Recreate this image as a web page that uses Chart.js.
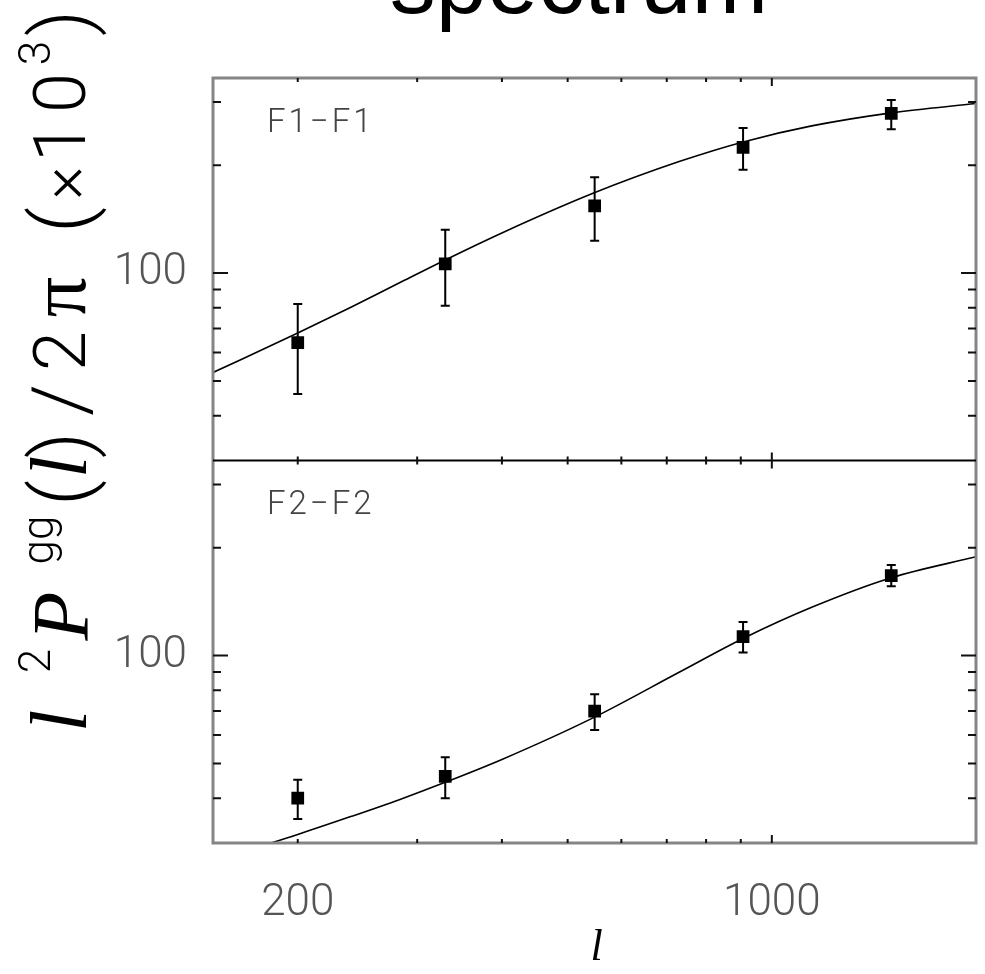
<!DOCTYPE html>
<html>
<head>
<meta charset="utf-8">
<script src="https://cdn.jsdelivr.net/npm/chart.js@4.4.1/dist/chart.umd.min.js"></script>
<style>
  html, body { margin: 0; padding: 0; background: #fff; }
  canvas { display: block; }
</style>
</head>
<body>
<canvas id="spectrum" width="985" height="974"></canvas>
<script>
// multipole bins and measured band powers (x10^3)
const ell = [200, 330, 548, 907, 1500];

const f1Power = [64, 106, 154, 224, 279];
const f1Lower = [46, 81, 123, 194, 252];
const f1Upper = [82, 132, 185, 254, 304];

const f2Power = [40, 46, 70, 113, 167];
const f2Lower = [35, 40, 62, 102, 156];
const f2Upper = [45, 52, 78, 124, 179];

// best-fit model curves
const modelEll = [150, 200, 240, 283, 330, 400, 545, 730, 910, 1145, 1500, 2000];
const modelF1 = [52.8, 68.0, 80.4, 94.1, 108.8, 129.4, 166.9, 204.6, 232.5, 257.3, 279.8, 297.2];
const modelF2 = [26.7, 31.7, 35.6, 39.7, 44.3, 51.3, 67.0, 89.8, 111.9, 136.3, 164.8, 188.6];

// axes
const xRange = [150, 2000];
const yRange = [30, 350];
const xMinorTicks = [200, 300, 400, 500, 600, 700, 800, 900];
const xMajorTicks = [1000];
const xTickLabels = [200, 1000];
const yMinorTicks = [40, 50, 60, 70, 80, 90, 200, 300];
const yMajorTicks = [100];
const yTickLabels = [100];

const thinFont = 'Roboto, "Liberation Sans", sans-serif';
const serifFont = '"Liberation Serif", "DejaVu Serif", serif';

function pts(xs, ys) { return xs.map((v, i) => ({ x: v, y: ys[i] })); }

function drawErrors(ctx, xs, ys, lo, hi) {
    ctx.save();
    ctx.lineWidth = 2;
    ctx.strokeStyle = '#000';
    ell.forEach((l, i) => {
        const px = xs.getPixelForValue(l);
        const y0 = ys.getPixelForValue(lo[i]);
        const y1 = ys.getPixelForValue(hi[i]);
        ctx.beginPath();
        ctx.moveTo(px, y0); ctx.lineTo(px, y1);
        ctx.moveTo(px - 4.5, y0); ctx.lineTo(px + 4.5, y0);
        ctx.moveTo(px - 4.5, y1); ctx.lineTo(px + 4.5, y1);
        ctx.stroke();
    });
    ctx.restore();
}

function rotGlyph(ctx, text, font, cy, baseX) {
    ctx.save();
    ctx.translate(baseX, cy);
    ctx.rotate(-Math.PI / 2);
    ctx.font = font;
    ctx.textAlign = 'center';
    ctx.textBaseline = 'alphabetic';
    ctx.fillText(text, 0, 0);
    ctx.restore();
}

const panelDecor = {
    id: 'panelDecor',
    afterDatasetsDraw(chart) {
        const ctx = chart.ctx;
        drawErrors(ctx, chart.scales.x, chart.scales.yF1, f1Lower, f1Upper);
        drawErrors(ctx, chart.scales.x, chart.scales.yF2, f2Lower, f2Upper);
    },
    afterDraw(chart) {
        const ctx = chart.ctx;
        const a = chart.chartArea;
        const xs = chart.scales.x;
        const top = chart.scales.yF1, bot = chart.scales.yF2;
        const mid = top.bottom;

        ctx.save();
        // frame
        ctx.strokeStyle = '#858585';
        ctx.lineWidth = 3;
        ctx.strokeRect(a.left, a.top, a.right - a.left, a.bottom - a.top);
        ctx.strokeStyle = '#000';
        ctx.lineWidth = 2;
        ctx.beginPath();
        ctx.moveTo(a.left, mid); ctx.lineTo(a.right, mid);
        ctx.stroke();

        // y ticks on both sides of each panel
        ctx.strokeStyle = '#111';
        ctx.lineWidth = 2;
        ctx.beginPath();
        [top, bot].forEach(s => {
            yMinorTicks.concat(yMajorTicks).forEach(v => {
                const len = yMajorTicks.includes(v) ? 15 : 8;
                const py = s.getPixelForValue(v);
                ctx.moveTo(a.left, py); ctx.lineTo(a.left + len, py);
                ctx.moveTo(a.right, py); ctx.lineTo(a.right - len, py);
            });
        });
        // x ticks on top, divider and bottom
        xMinorTicks.concat(xMajorTicks).forEach(v => {
            const len = xMajorTicks.includes(v) ? 8 : 4;
            const px = xs.getPixelForValue(v);
            ctx.moveTo(px, a.top); ctx.lineTo(px, a.top + len);
            ctx.moveTo(px, mid - len); ctx.lineTo(px, mid + len);
            ctx.moveTo(px, a.bottom); ctx.lineTo(px, a.bottom - len);
        });
        ctx.stroke();

        // panel labels
        ctx.fillStyle = '#444';
        ctx.font = '300 33px ' + thinFont;
        ctx.textAlign = 'left';
        ctx.textBaseline = 'alphabetic';
        ctx.letterSpacing = '3px';
        ctx.fillText('F1\u2212F1', a.left + 54, top.top + 54);
        ctx.fillText('F2\u2212F2', a.left + 54, bot.top + 53);
        ctx.letterSpacing = '0px';

        // title (runs off the top edge)
        ctx.fillStyle = '#000';
        ctx.font = '92px "Liberation Sans", Arial, sans-serif';
        ctx.textAlign = 'center';
        ctx.fillText('spectrum', 579, 13);

        // x axis title
        ctx.font = 'italic 44px ' + serifFont;
        ctx.fillText('l', (a.left + a.right) / 2 + 2, 960);

        // y axis title, set piece by piece
        const big = '300 80px ' + thinFont;
        const sup = '300 44px ' + thinFont;
        const ital = 'italic 80px ' + serifFont;
        rotGlyph(ctx, 'l', ital, 721, 86);
        rotGlyph(ctx, '2', sup, 661, 50);
        rotGlyph(ctx, 'P', ital, 616, 88);
        rotGlyph(ctx, 'gg', sup, 540, 53);
        rotGlyph(ctx, '(', big, 493, 88);
        rotGlyph(ctx, 'l', ital, 467, 86);
        rotGlyph(ctx, ')', big, 445, 88);
        rotGlyph(ctx, '/', big, 400, 88);
        rotGlyph(ctx, '2', '300 72px ' + thinFont, 351, 85);
        rotGlyph(ctx, '\u03c0', '80px ' + serifFont, 297, 85);
        rotGlyph(ctx, '(', big, 220, 88);
        rotGlyph(ctx, '\u00d7', '300 64px ' + thinFont, 183, 85);
        rotGlyph(ctx, '1', '300 72px ' + thinFont, 142, 85);
        rotGlyph(ctx, '0', '300 72px ' + thinFont, 93, 85);
        rotGlyph(ctx, '3', sup, 53, 50);
        rotGlyph(ctx, ')', big, 23, 88);
        ctx.restore();
    }
};

const tickFont = { family: thinFont, size: 44, weight: '300' };

new Chart(document.getElementById('spectrum'), {
    type: 'line',
    data: {
        datasets: [
            { data: pts(modelEll, modelF2), yAxisID: 'yF2', borderColor: '#000', borderWidth: 1.6,
              pointRadius: 0, cubicInterpolationMode: 'monotone', fill: false },
            { data: pts(ell, f2Power), yAxisID: 'yF2', showLine: false, pointStyle: 'rect',
              pointRadius: 9, backgroundColor: '#000', borderColor: '#000', borderWidth: 0 },
            { data: pts(modelEll, modelF1), yAxisID: 'yF1', borderColor: '#000', borderWidth: 1.6,
              pointRadius: 0, cubicInterpolationMode: 'monotone', fill: false },
            { data: pts(ell, f1Power), yAxisID: 'yF1', showLine: false, pointStyle: 'rect',
              pointRadius: 9, backgroundColor: '#000', borderColor: '#000', borderWidth: 0 }
        ]
    },
    options: {
        responsive: false,
        animation: false,
        events: [],
        layout: { padding: { top: 78, right: 7, left: 0, bottom: 0 } },
        plugins: { legend: { display: false }, tooltip: { enabled: false } },
        scales: {
            x: {
                type: 'logarithmic', min: xRange[0], max: xRange[1],
                grid: { display: false }, border: { display: false },
                afterBuildTicks: s => { s.ticks = xMinorTicks.concat(xMajorTicks).map(v => ({ value: v })); },
                afterFit: s => { s.height = 131; },
                ticks: {
                    autoSkip: false, maxRotation: 0, padding: 27, color: '#555', font: tickFont,
                    callback: v => xTickLabels.includes(v) ? String(v) : ''
                }
            },
            yF2: {
                type: 'logarithmic', position: 'left', stack: 'panels', stackWeight: 1,
                min: yRange[0], max: yRange[1],
                grid: { display: false }, border: { display: false },
                afterBuildTicks: s => { s.ticks = yMinorTicks.concat(yMajorTicks).map(v => ({ value: v })); },
                afterFit: s => { s.width = 213; },
                ticks: {
                    autoSkip: false, padding: 18, color: '#555', font: tickFont,
                    callback: v => yTickLabels.includes(v) ? String(v) : ''
                }
            },
            yF1: {
                type: 'logarithmic', position: 'left', stack: 'panels', stackWeight: 1,
                min: yRange[0], max: yRange[1],
                grid: { display: false }, border: { display: false },
                afterBuildTicks: s => { s.ticks = yMinorTicks.concat(yMajorTicks).map(v => ({ value: v })); },
                afterFit: s => { s.width = 213; },
                ticks: {
                    autoSkip: false, padding: 18, color: '#555', font: tickFont,
                    callback: v => yTickLabels.includes(v) ? String(v) : ''
                }
            }
        }
    },
    plugins: [panelDecor]
});
</script>
</body>
</html>
